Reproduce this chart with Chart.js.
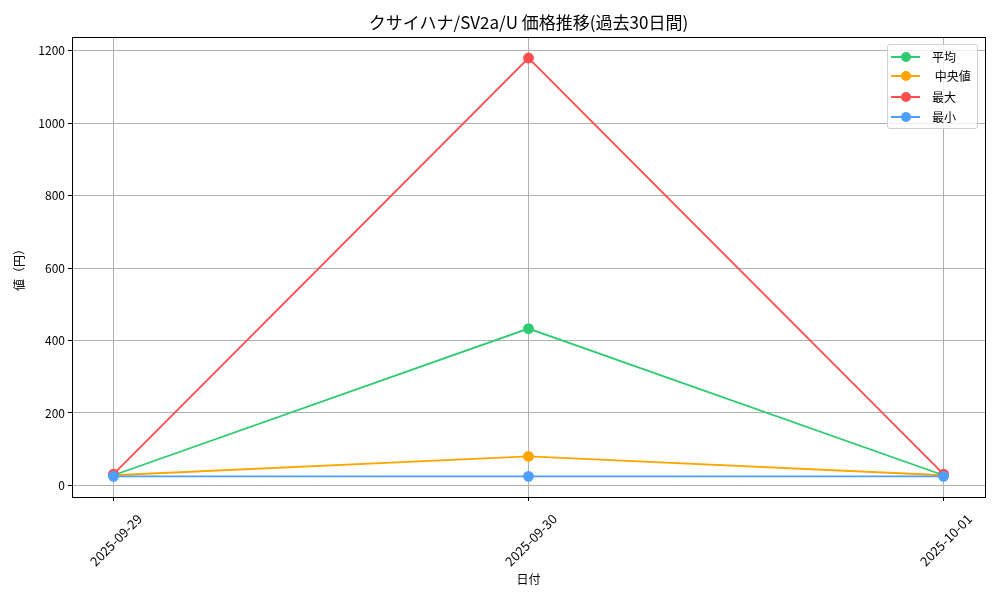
<!DOCTYPE html>
<html><head><meta charset="utf-8">
<script src="https://cdn.jsdelivr.net/npm/chart.js@4"></script>
<style>
html,body{margin:0;padding:0;background:#fff;}
#wrap{position:relative;width:1000px;height:600px;}
#title{position:absolute;left:0;width:1057px;top:9px;text-align:center;font:17px "Noto Sans CJK JP";color:#000;}
#legend{position:absolute;left:887px;top:44px;width:89px;height:83px;border:1px solid #d0d0d0;border-radius:3px;background:rgba(255,255,255,0.8);font:12px "Noto Sans CJK JP";}
.li{position:absolute;left:0;height:16px;width:90px;}
.ln{position:absolute;left:3px;top:7px;width:29px;height:2px;}
.dot{position:absolute;left:13px;top:3px;width:10px;height:10px;border-radius:50%;}
.tx{position:absolute;left:44px;top:-1px;white-space:pre;}
</style></head>
<body><div id="wrap"><canvas id="c" width="1000" height="600"></canvas>
<div id="title">クサイハナ/SV2a/U 価格推移(過去30日間)</div>
<div id="legend"></div></div>
<script>
const dates = ["2025-09-29", "2025-09-30", "2025-10-01"];
const avgValues = [28, 433, 28];
const medianValues = [28, 80, 28];
const maxValues = [31, 1180, 31];
const minValues = [25, 25, 25];
const seriesNames = ["平均", " 中央値", "最大", "最小"];
const yTicks = [0, 200, 400, 600, 800, 1000, 1200];
const colors = ["#2ecc71", "#ffa500", "#ff4d4d", "#4d9fff"];

const allSeries = [avgValues, medianValues, maxValues, minValues];
const datasets = allSeries.map((vals, i) => ({
  label: seriesNames[i],
  data: vals.map((v, j) => ({x: j, y: v})),
  borderColor: colors[i], backgroundColor: colors[i],
  pointBackgroundColor: colors[i], pointBorderColor: colors[i],
  borderWidth: 1.8, pointRadius: 4.5, pointHoverRadius: 4.5,
  order: 3 - i, tension: 0
}));

const leg = document.getElementById('legend');
const legTops = [4, 23, 44, 64];
seriesNames.forEach((n, i) => {
  const d = document.createElement('div'); d.className = 'li'; d.style.top = legTops[i] + 'px';
  d.innerHTML = `<div class="ln" style="background:${colors[i]}"></div><div class="dot" style="background:${colors[i]}"></div><div class="tx">${n}</div>`;
  leg.appendChild(d);
});

const font = {family: '"Noto Sans CJK JP"', size: 12};
new Chart(document.getElementById('c'), {
  type: 'line',
  data: {datasets},
  options: {
    responsive: false, animation: false, devicePixelRatio: 1,
    layout: {padding: {left: 0, right: 15, top: 37, bottom: 0}},
    plugins: {legend: {display: false}, tooltip: {enabled: false}, title: {display: false}},
    scales: {
      x: {
        type: 'linear', min: -0.1, max: 2.1,
        afterBuildTicks: s => { s.ticks = dates.map((_, i) => ({value: i})); },
        afterFit: s => { s.height = 103; },
        ticks: {callback: v => dates[v], color: '#000', font: {family: '"Noto Sans CJK JP"', size: 13}, maxRotation: 45, minRotation: 45, padding: 10, labelOffset: 26},
        grid: {color: '#b0b0b0', lineWidth: 1, tickLength: 4, tickColor: '#000'},
        border: {color: '#000', width: 1},
        title: {display: true, text: '日付', color: '#000', font, padding: {top: 0, bottom: 13}}
      },
      y: {
        type: 'linear', min: -32, max: 1238,
        afterBuildTicks: s => { s.ticks = yTicks.map(v => ({value: v})); },
        afterFit: s => { s.width = 72; },
        ticks: {color: '#000', font, padding: 3, callback: v => String(v)},
        grid: {color: '#b0b0b0', lineWidth: 1, tickLength: 4, tickColor: '#000'},
        border: {color: '#000', width: 1},
        title: {display: true, text: '値（円）', color: '#000', font, padding: {top: 12, bottom: 0}}
      }
    }
  },
  plugins: [{
    id: 'frame',
    afterDraw(chart) {
      const {ctx, chartArea: a} = chart;
      ctx.save(); ctx.strokeStyle = '#000'; ctx.lineWidth = 1;
      ctx.strokeRect(a.left + 0.5, a.top + 0.5, a.right - a.left, a.bottom - a.top);
      ctx.restore();
    }
  }]
});
</script></body></html>
